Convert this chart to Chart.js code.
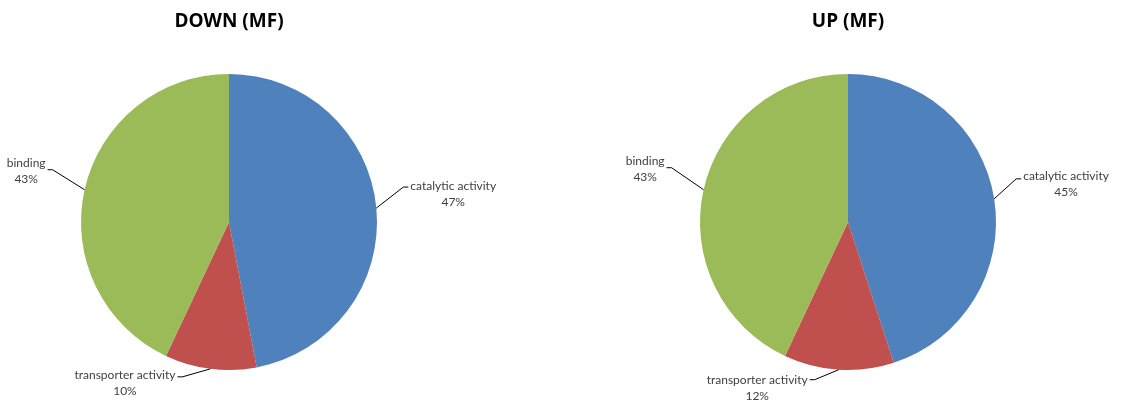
<!DOCTYPE html>
<html>
<head>
<meta charset="utf-8">
<script src="https://cdn.jsdelivr.net/npm/chart.js@4.4.1/dist/chart.umd.min.js"></script>
<style>
    html, body { margin: 0; padding: 0; background: #fff; }
    .wrap { position: absolute; top: 0; width: 561px; height: 404px; }
</style>
</head>
<body>
<div class="wrap" style="left:0"><canvas id="downChart"></canvas></div>
<div class="wrap" style="left:562px"><canvas id="upChart"></canvas></div>
<script>
const categories = ["catalytic activity", "transporter activity", "binding"];
const downValues = [47, 10, 43];
const upValues = [45, 12, 43];
const sliceColors = ["#4F81BD", "#C0504D", "#9BBB59"];

// leader line layout per slice: [elbow dx, elbow dy, text dy]
const downLeaders = [[27, -21, -1], [-28, 8, -2], [-32, -20, -7]];
const upLeaders = [[22, -20, -3], [-24, 10, 0], [-32, -22, -7]];

const leaderPlugin = {
    id: "leaders",
    afterDraw(chart, args, opts) {
        const ctx = chart.ctx;
        const meta = chart.getDatasetMeta(0);
        const values = chart.data.datasets[0].data;
        ctx.save();

        // title over the pie
        const first = meta.data[0];
        ctx.font = "bold 19px 'Open Sans'";
        ctx.fillStyle = "#000";
        ctx.textAlign = "center";
        ctx.textBaseline = "middle";
        ctx.fillText(opts.title, first.x, 22);

        meta.data.forEach((arc, i) => {
            const mid = (arc.startAngle + arc.endAngle) / 2;
            const ax = arc.x + Math.cos(mid) * arc.outerRadius;
            const ay = arc.y + Math.sin(mid) * arc.outerRadius;
            const off = opts.leaders[i];
            const ex = ax + off[0];
            const ey = ay + off[1];
            const dir = off[0] > 0 ? 1 : -1;
            const tx = ex + dir * 5;

            ctx.strokeStyle = "#000";
            ctx.lineWidth = 1;
            ctx.beginPath();
            ctx.moveTo(ax, ay);
            ctx.lineTo(ex, ey);
            ctx.lineTo(tx, ey);
            ctx.stroke();

            const lines = [chart.data.labels[i], values[i] + "%"];
            ctx.font = "12px Lato";
            ctx.fillStyle = "#404040";
            const w = Math.max(...lines.map(l => ctx.measureText(l).width));
            const left = dir > 0 ? tx + 2 : tx - 2 - w;
            lines.forEach((l, k) => {
                ctx.fillText(l, left + w / 2, ey + off[2] + k * 16.5);
            });
        });
        ctx.restore();
    }
};

function makePie(id, values, title, leaders, padding) {
    return new Chart(document.getElementById(id), {
        type: "pie",
        data: {
            labels: categories,
            datasets: [{
                data: values,
                backgroundColor: sliceColors,
                borderWidth: 0,
                hoverOffset: 0
            }]
        },
        options: {
            responsive: true,
            maintainAspectRatio: false,
            animation: false,
            events: [],
            layout: { padding: padding },
            plugins: {
                legend: { display: false },
                tooltip: { enabled: false },
                leaders: { title: title, leaders: leaders }
            }
        },
        plugins: [leaderPlugin]
    });
}

makePie("downChart", downValues, "DOWN (MF)", downLeaders, { left: 81, right: 184, top: 74, bottom: 34 });
makePie("upChart", upValues, "UP (MF)", upLeaders, { left: 138, right: 127, top: 74, bottom: 34 });
</script>
</body>
</html>
